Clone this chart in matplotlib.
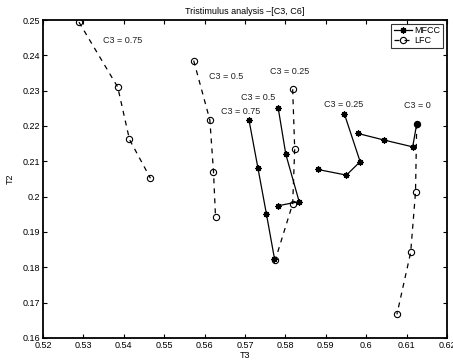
import matplotlib
matplotlib.use("Agg")
import matplotlib.pyplot as plt

# MFCC series (T3, T2)
mfcc_075_x = [0.5710, 0.5732, 0.5753, 0.5773]
mfcc_075_y = [0.2216, 0.2081, 0.1951, 0.1824]
mfcc_050_x = [0.5782, 0.5801, 0.5834, 0.5781]
mfcc_050_y = [0.2252, 0.2120, 0.1986, 0.1974]
mfcc_025_x = [0.5946, 0.5985, 0.5951, 0.5880]
mfcc_025_y = [0.2234, 0.2099, 0.2061, 0.2077]
mfcc_000_x = [0.6125, 0.6115, 0.6045, 0.5979]
mfcc_000_y = [0.2206, 0.2141, 0.2160, 0.2179]

# LFC series
lfc_075_x = [0.5289, 0.5385, 0.5414, 0.5466]
lfc_075_y = [0.2494, 0.2310, 0.2162, 0.2052]
lfc_050_x = [0.5573, 0.5613, 0.5622, 0.5627]
lfc_050_y = [0.2385, 0.2217, 0.2071, 0.1943]
lfc_025_x = [0.5818, 0.5823, 0.5818, 0.5775]
lfc_025_y = [0.2304, 0.2135, 0.1980, 0.1821]
lfc_000_x = [0.6125, 0.6122, 0.6110, 0.6076]
lfc_000_y = [0.2206, 0.2012, 0.1842, 0.1667]

labels_text = ["C3 = 0.75", "C3 = 0.5", "C3 = 0.25", "C3 = 0.5", "C3 = 0.75", "C3 = 0.25", "C3 = 0"]
labels_x = [0.5349, 0.5611, 0.5762, 0.5690, 0.5641, 0.5896, 0.6094]
labels_y = [0.2443, 0.2341, 0.2353, 0.2282, 0.2242, 0.2262, 0.2259]

xticks = [0.52, 0.53, 0.54, 0.55, 0.56, 0.57, 0.58, 0.59, 0.6, 0.61, 0.62]
xtick_labels = ["0.52", "0.53", "0.54", "0.55", "0.56", "0.57", "0.58", "0.59", "0.6", "0.61", "0.62"]
yticks = [0.16, 0.17, 0.18, 0.19, 0.2, 0.21, 0.22, 0.23, 0.24, 0.25]
ytick_labels = ["0.16", "0.17", "0.18", "0.19", "0.2", "0.21", "0.22", "0.23", "0.24", "0.25"]

plt.rcParams['font.family'] = ['Liberation Sans', 'DejaVu Sans']

fig = plt.figure(figsize=(4.53, 3.63), dpi=100)
ax = fig.add_axes([0.0949, 0.0689, 0.8919, 0.876])

asterisk = (8, 2, 0)
mk = dict(color='black', linewidth=0.9)
first = True
for xs, ys in [(mfcc_075_x, mfcc_075_y), (mfcc_050_x, mfcc_050_y),
               (mfcc_025_x, mfcc_025_y), (mfcc_000_x, mfcc_000_y)]:
    ax.plot(xs, ys, '-', marker=asterisk, markersize=4.5, markeredgewidth=0.9,
            label='MFCC' if first else None, **mk)
    first = False
first = True
for xs, ys in [(lfc_075_x, lfc_075_y), (lfc_050_x, lfc_050_y),
               (lfc_025_x, lfc_025_y), (lfc_000_x, lfc_000_y)]:
    ax.plot(xs, ys, '--', marker='o', markersize=4.5, markerfacecolor='none',
            markeredgewidth=0.8, dashes=(4, 4), label='LFC' if first else None, **mk)
    first = False

for t, x, y in zip(labels_text, labels_x, labels_y):
    ax.text(x, y, t, fontsize=6.5, va='center', ha='left', color='#222222')

ax.set_xlim(0.52, 0.62)
ax.set_ylim(0.16, 0.25)
ax.set_xticks(xticks)
ax.set_xticklabels(xtick_labels)
ax.set_yticks(yticks)
ax.set_yticklabels(ytick_labels)
ax.tick_params(direction='in', top=True, right=True, labelsize=6.5, length=3, pad=2)
for s in ax.spines.values():
    s.set_linewidth(1.3)

ax.set_xlabel('T3', fontsize=6.5, labelpad=1)
ax.set_ylabel('T2', fontsize=6.5, labelpad=6)
ax.set_title('Tristimulus analysis \u2013[C3, C6]', fontsize=6.5, pad=4)

leg = ax.legend(loc='upper right', fontsize=6.5, frameon=True, fancybox=False,
                edgecolor='black', borderpad=0.3, labelspacing=0.1,
                handlelength=2.0, handletextpad=0.3, borderaxespad=0.4)
leg.get_frame().set_linewidth(0.8)

fig.savefig('out.png', dpi=100)
